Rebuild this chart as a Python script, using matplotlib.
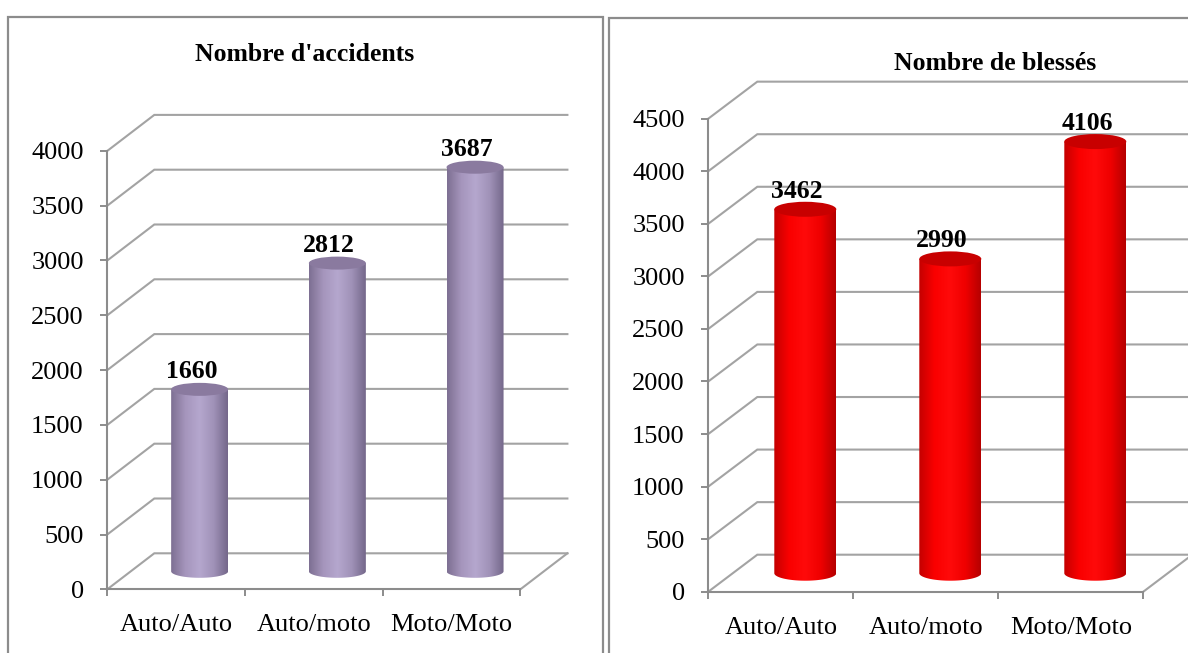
import numpy as np
import matplotlib
matplotlib.use("Agg")
import matplotlib.pyplot as plt
from matplotlib.colors import LinearSegmentedColormap
from matplotlib.patches import PathPatch, Ellipse, Rectangle
from matplotlib.path import Path

plt.rcParams["font.family"] = ["Liberation Serif", "DejaVu Serif"]

categories = ["Auto/Auto", "Auto/moto", "Moto/Moto"]
accidents = [1660, 2812, 3687]
blesses = [3462, 2990, 4106]

FIG_W, FIG_H, DPI = 1188, 653, 100
GRID = "#a3a3a3"
AXIS = "#8c8c8c"

# layout of each panel in pixels (positions only, values come from the lists)
PANELS = [
    dict(title="Nombre d'accidents", values=accidents, ymax=4000,
         axis_x=107.3, zero_y=589.3, cat_px=137.7, px_per_500=54.8,
         depth=(47, 36), bar_px=57, cap_px=13, title_xy=(305, 61),
         colors=["#7d6f92", "#a595bc", "#b5a7ce", "#a092b8", "#74678a"],
         top_color="#8a7a9f"),
    dict(title="Nombre de blessés", values=blesses, ymax=4500,
         axis_x=708.3, zero_y=591.7, cat_px=145.0, px_per_500=52.56,
         depth=(49, 37), bar_px=62, cap_px=15, title_xy=(995, 70),
         colors=["#c40000", "#fa0000", "#ff0a0a", "#f00000", "#b50000"],
         top_color="#c80000"),
]


def draw_panel(fig, p):
    ncat = len(categories)
    u_px = p["px_per_500"] / 500.0
    ddx = p["depth"][0] / p["cat_px"]
    ddy = p["depth"][1] / u_px
    ymax = p["ymax"]

    rect = [
        p["axis_x"] / FIG_W,
        (FIG_H - p["zero_y"]) / FIG_H,
        (ncat * p["cat_px"] + p["depth"][0]) / FIG_W,
        (ymax * u_px + p["depth"][1]) / FIG_H,
    ]
    ax = fig.add_axes(rect)
    ax.patch.set_visible(False)

    ticks = np.arange(0, ymax + 1, 500)
    x_right = ncat - 0.5 + ddx

    # back wall and floor lines of the pseudo 3D box
    for v in ticks:
        ax.plot([-0.5, -0.5 + ddx, x_right], [v, v + ddy, v + ddy],
                color=GRID, lw=1.5, zorder=1, clip_on=False,
                solid_joinstyle="miter")
    ax.plot([ncat - 0.5, x_right], [0, ddy], color=GRID, lw=1.5,
            zorder=1, clip_on=False)

    cmap = LinearSegmentedColormap.from_list("cyl", p["colors"])
    w = p["bar_px"] / p["cat_px"]
    h = p["cap_px"] / u_px
    base = ddy / 2
    theta = np.linspace(np.pi, 2 * np.pi, 80)

    for i, v in enumerate(p["values"]):
        cx = i + ddx / 2
        xl, xr = cx - w / 2, cx + w / 2
        ytop = v + base
        ex = cx + w / 2 * np.cos(theta)
        ey = base + h / 2 * np.sin(theta)
        verts = [(xl, ytop)] + list(zip(ex, ey)) + [(xr, ytop), (xl, ytop)]
        body = PathPatch(Path(verts, closed=True), facecolor="none",
                         edgecolor="none", zorder=3)
        ax.add_patch(body)
        im = ax.imshow(np.linspace(0, 1, 256)[None, :], cmap=cmap,
                       extent=(xl, xr, base - h / 2, ytop), aspect="auto",
                       interpolation="bilinear", zorder=3)
        im.set_clip_path(body)
        ax.add_patch(Ellipse((cx, ytop), w, h, facecolor=p["top_color"],
                             edgecolor="none", zorder=4))
        ax.annotate(f"{v}", (cx, ytop), xytext=(-6, 13),
                    textcoords="offset points", ha="center", va="center",
                    fontsize=18.5, fontweight="bold", zorder=5)

    ax.set_xlim(-0.5, x_right)
    ax.set_ylim(0, ymax + ddy)

    for side in ("top", "right"):
        ax.spines[side].set_visible(False)
    ax.spines["left"].set_bounds(0, ymax)
    ax.spines["bottom"].set_bounds(-0.5, ncat - 0.5)
    for side in ("left", "bottom"):
        ax.spines[side].set_color(AXIS)
        ax.spines[side].set_linewidth(1.5)
        ax.spines[side].set_zorder(2)

    ax.set_yticks(ticks)
    ax.tick_params(axis="y", length=5, width=1.4, color=AXIS, pad=12,
                   labelsize=19)
    ax.set_xticks(range(ncat))
    ax.set_xticklabels(categories)
    ax.set_xticks(np.arange(-0.5, ncat, 1), minor=True)
    ax.tick_params(axis="x", which="major", length=0, pad=18, labelsize=19)
    ax.tick_params(axis="x", which="minor", length=5, width=1.4, color=AXIS)

    fig.text(p["title_xy"][0] / FIG_W, 1 - p["title_xy"][1] / FIG_H,
             p["title"], ha="center", va="baseline", fontsize=18.5,
             fontweight="bold")
    return ax


fig = plt.figure(figsize=(FIG_W / DPI, FIG_H / DPI), dpi=DPI)

# panel frames
for left, right, top in [(8.4, 602.7, 16.7), (609.0, 1200.0, 18.3)]:
    fig.add_artist(Rectangle((left / FIG_W, -0.05), (right - left) / FIG_W,
                             1.05 - top / FIG_H, transform=fig.transFigure,
                             fill=False, edgecolor=AXIS, lw=1.6))

for panel in PANELS:
    draw_panel(fig, panel)

fig.savefig("out.png", dpi=DPI)
